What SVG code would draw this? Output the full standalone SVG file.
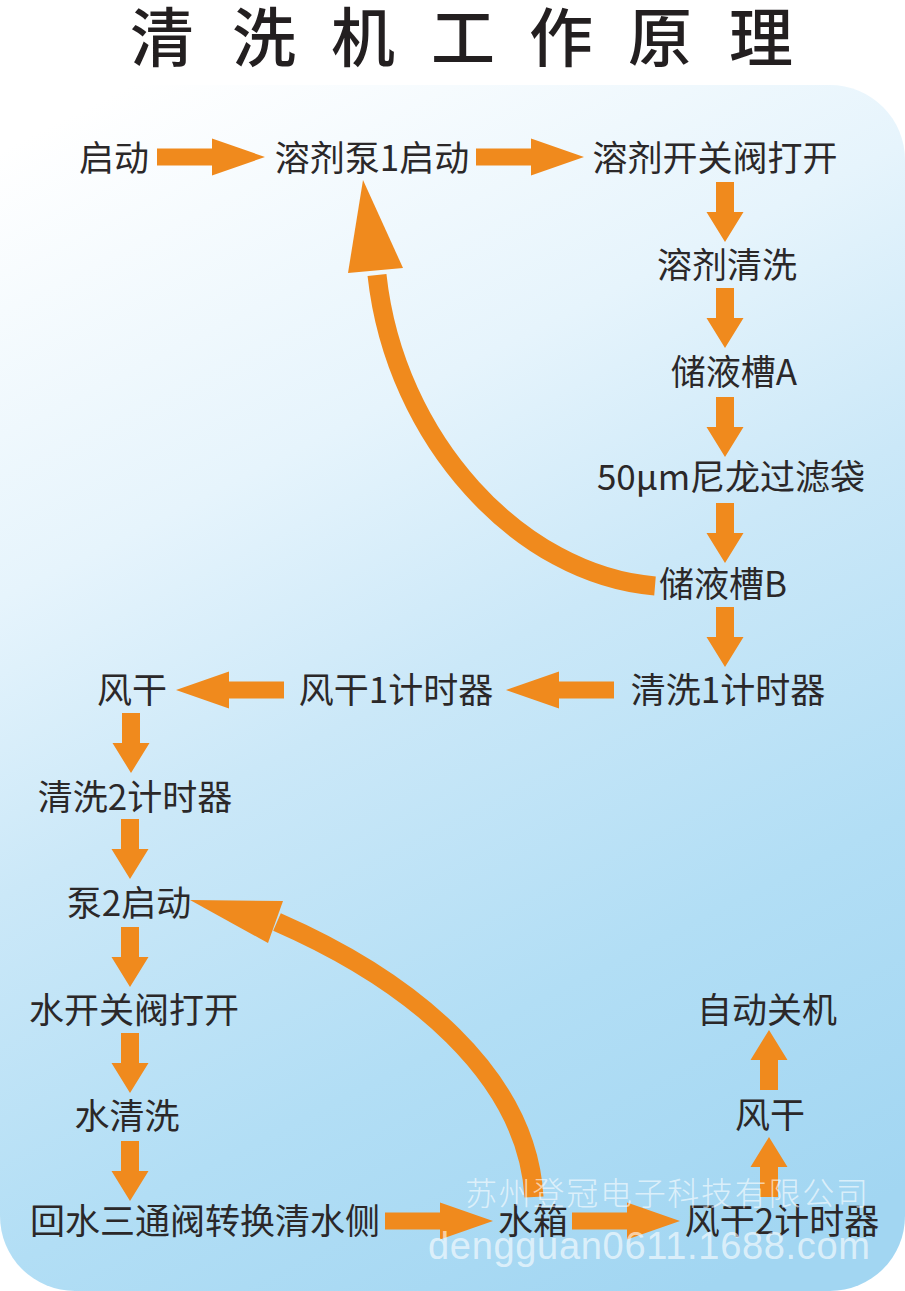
<svg xmlns="http://www.w3.org/2000/svg" width="905" height="1291" viewBox="0 0 905 1291">
<defs>
<linearGradient id="bg" gradientUnits="userSpaceOnUse" x1="100" y1="100" x2="700" y2="1291">
<stop offset="0" stop-color="#ffffff"/>
<stop offset="0.3" stop-color="#e6f4fc"/>
<stop offset="0.5" stop-color="#cbe8f8"/>
<stop offset="0.75" stop-color="#b2def5"/>
<stop offset="1" stop-color="#a2d6f2"/>
</linearGradient>
<path id="harr" d="M0,-8.5 H55 V-18.5 L108,0 L55,18.5 V8.5 H0 Z"/>
<path id="varr" d="M-9,0 H9 V30 H18.5 L0,60 L-18.5,30 H-9 Z"/>
<style>
.t{font-family:"Noto Sans CJK SC","Noto Sans",sans-serif;font-size:35px;fill:#2b2829;text-anchor:middle}
.title{font-family:"Noto Sans CJK SC",sans-serif;font-size:64px;font-weight:500;fill:#231f20;text-anchor:middle}
.arr{fill:#f08a1d}
.curve{fill:none;stroke:#f08a1d;stroke-width:19}
.wm{fill:#ffffff;fill-opacity:0.62}
</style>
</defs>
<rect x="0" y="85" width="905" height="1206" rx="75" ry="75" fill="url(#bg)"/>
<g id="title">
<text class="title" y="61"><tspan x="162">清</tspan><tspan x="264">洗</tspan><tspan x="363">机</tspan><tspan x="463">工</tspan><tspan x="561">作</tspan><tspan x="660">原</tspan><tspan x="761">理</tspan></text>
</g>
<g id="connectors">
<use href="#harr" class="arr" transform="translate(157,157)"/>
<use href="#harr" class="arr" transform="translate(476,157)"/>
<use href="#varr" class="arr" transform="translate(725,182)"/>
<use href="#varr" class="arr" transform="translate(725,288)"/>
<use href="#varr" class="arr" transform="translate(725,397)"/>
<use href="#varr" class="arr" transform="translate(725,503)"/>
<use href="#varr" class="arr" transform="translate(725,607)"/>
<use href="#harr" class="arr" transform="translate(614,690) rotate(180)"/>
<use href="#harr" class="arr" transform="translate(284,690) rotate(180)"/>
<use href="#varr" class="arr" transform="translate(131,713)"/>
<use href="#varr" class="arr" transform="translate(130,819)"/>
<use href="#varr" class="arr" transform="translate(130,927)"/>
<use href="#varr" class="arr" transform="translate(130,1033)"/>
<use href="#varr" class="arr" transform="translate(130,1141)"/>
<use href="#harr" class="arr" transform="translate(385,1221)"/>
<use href="#harr" class="arr" transform="translate(572,1221)"/>
<use href="#varr" class="arr" transform="translate(769,1197) rotate(180)"/>
<use href="#varr" class="arr" transform="translate(769,1090) rotate(180)"/>
<path class="curve" d="M655,586 C520,575 395,440 377,275"/>
<polygon class="arr" points="363,180 403,268 348,273"/>
<path class="curve" d="M534,1197 C527,1075 410,980 277,922"/>
<polygon class="arr" points="190,900 283,901 268,943"/>
</g>
<g id="n1"><text class="t" x="114" y="171">启动</text></g>
<g id="n2"><text class="t" x="372" y="171">溶剂泵1启动</text></g>
<g id="n3"><text class="t" x="715" y="171">溶剂开关阀打开</text></g>
<g id="n4"><text class="t" x="727" y="278">溶剂清洗</text></g>
<g id="n5"><text class="t" x="734" y="385">储液槽A</text></g>
<g id="n6"><text class="t" x="731" y="490">50μm尼龙过滤袋</text></g>
<g id="n7"><text class="t" x="723" y="597">储液槽B</text></g>
<g id="n8"><text class="t" x="728" y="703">清洗1计时器</text></g>
<g id="n9"><text class="t" x="396" y="703">风干1计时器</text></g>
<g id="n10"><text class="t" x="132" y="703">风干</text></g>
<g id="n11"><text class="t" x="135" y="810">清洗2计时器</text></g>
<g id="n12"><text class="t" x="129" y="916">泵2启动</text></g>
<g id="n13"><text class="t" x="134" y="1023">水开关阀打开</text></g>
<g id="n14"><text class="t" x="127" y="1129">水清洗</text></g>
<g id="n15"><text class="t" x="205" y="1234">回水三通阀转换清水侧</text></g>
<g id="n16"><text class="t" x="533" y="1234">水箱</text></g>
<g id="n17"><text class="t" x="782" y="1234">风干2计时器</text></g>
<g id="n18"><text class="t" x="770" y="1128">风干</text></g>
<g id="n19"><text class="t" x="767" y="1023">自动关机</text></g>
<g id="watermark">
<text class="wm" x="465" y="1205" font-family="'Noto Sans CJK SC',sans-serif" font-size="32" font-weight="300" textLength="403" lengthAdjust="spacing">苏州登冠电子科技有限公司</text>
<text class="wm" x="428" y="1259" font-family="'Liberation Sans',Arial,sans-serif" font-size="38" textLength="442" lengthAdjust="spacing">dengguan0611.1688.com</text>
</g>
</svg>
